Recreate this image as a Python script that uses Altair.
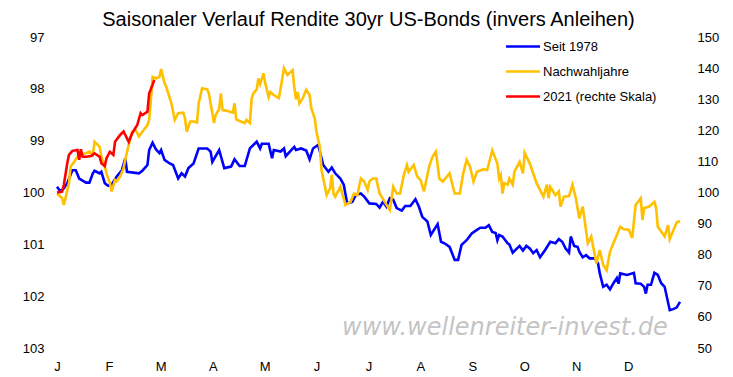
import altair as alt
import pandas as pd

TITLE = "Saisonaler Verlauf Rendite 30yr US-Bonds (invers Anleihen)"
MONTH_LABELS = ["J", "F", "M", "A", "M", "J", "J", "A", "S", "O", "N", "D"]
SERIES = ["Seit 1978", "Nachwahljahre", "2021 (rechte Skala)"]
COLORS = ["#0000FF", "#FFC000", "#FF0000"]
LEFT_TICKS = [97, 98, 99, 100, 101, 102, 103]
RIGHT_TICKS = [50, 60, 70, 80, 90, 100, 110, 120, 130, 140, 150]
MONTH_TICKS = [0, 30.4, 60.8, 91.3, 121.7, 152.1, 182.5, 212.9, 243.3, 273.8, 304.2, 334.6]
WATERMARK = "www.wellenreiter-invest.de"

# Seit 1978 (left axis, inverted)
blue_day = [0, 2, 4, 6, 9, 11, 13, 17, 19, 21, 22, 25, 26, 28, 30, 32, 35, 38, 40, 41, 48, 50, 53, 54, 56,
            58, 60, 61, 63, 66, 68, 71, 73, 75, 77, 80, 83, 88, 90, 91, 95, 98, 102, 104, 107, 110, 113,
            117, 119, 120, 124, 126, 127, 131, 133, 134, 139, 140, 143, 146, 148, 150, 153, 154, 156, 159,
            161, 163, 166, 168, 170, 173, 175, 178, 180, 183, 187, 189, 191, 193, 195, 197, 199, 202, 204,
            207, 210, 212, 214, 217, 219, 223, 225, 227, 230, 233, 235, 237, 240, 243, 246, 248, 251, 253,
            255, 257, 258, 259, 261, 264, 265, 267, 271, 273, 275, 277, 279, 281, 283, 286, 289, 292, 294,
            296, 298, 300, 301, 303, 305, 306, 308, 310, 312, 315, 317, 318, 320, 322, 324, 326, 328, 329,
            330, 334, 338, 339, 342, 344, 345, 346, 348, 350, 352, 354, 356, 359, 361, 363, 365]
blue_val = [99.89, 99.98, 99.92, 99.82, 99.57, 99.57, 99.73, 99.81, 99.81, 99.63, 99.58, 99.63, 99.60,
            99.82, 99.87, 99.85, 99.69, 99.57, 99.34, 99.60, 99.63, 99.58, 99.47, 99.18, 99.04, 99.17,
            99.24, 99.18, 99.37, 99.44, 99.47, 99.73, 99.63, 99.69, 99.53, 99.44, 99.15, 99.15, 99.21,
            99.41, 99.18, 99.53, 99.50, 99.36, 99.49, 99.49, 99.15, 99.02, 99.15, 99.06, 99.06, 99.34,
            99.18, 99.21, 99.15, 99.30, 99.12, 99.18, 99.15, 99.19, 99.36, 99.15, 99.08, 99.21, 99.47,
            99.60, 99.52, 99.63, 99.73, 99.85, 100.21, 100.18, 100.05, 100.02, 100.08, 100.21, 100.22,
            100.29, 100.18, 100.27, 100.11, 100.14, 100.30, 100.35, 100.26, 100.26, 100.13, 100.27,
            100.47, 100.56, 100.82, 100.61, 100.95, 100.98, 101.05, 101.30, 101.30, 101.01, 100.92,
            100.79, 100.72, 100.68, 100.68, 100.63, 100.76, 100.78, 100.92, 100.82, 100.85, 100.98,
            101.00, 101.16, 101.03, 101.12, 101.03, 101.08, 101.17, 101.11, 101.25, 101.11, 100.95,
            100.98, 100.90, 100.95, 101.08, 101.16, 100.85, 101.03, 101.05, 101.14, 101.25, 101.21,
            101.27, 101.27, 101.37, 101.56, 101.82, 101.78, 101.87, 101.75, 101.65, 101.76, 101.56,
            101.59, 101.55, 101.75, 101.76, 101.82, 101.95, 101.78, 101.78, 101.55, 101.59, 101.75,
            101.82, 102.27, 102.25, 102.22, 102.11]

# Nachwahljahre (left axis, inverted)
orange_day = [0, 3, 4, 7, 8, 10, 12, 14, 17, 19, 21, 22, 25, 26, 28, 29, 31, 32, 34, 35, 37, 39, 40, 42,
              44, 46, 48, 50, 53, 54, 55, 56, 58, 60, 61, 63, 64, 67, 69, 71, 74, 75, 76, 78, 80, 82, 83,
              85, 88, 89, 91, 92, 93, 95, 96, 97, 99, 103, 104, 105, 107, 110, 111, 113, 114, 115, 117,
              118, 119, 121, 122, 124, 125, 127, 130, 132, 133, 135, 138, 139, 140, 141, 142, 144, 146,
              148, 149, 151, 152, 154, 155, 157, 158, 160, 161, 162, 163, 166, 169, 172, 174, 176, 178,
              180, 182, 183, 185, 187, 189, 192, 195, 197, 199, 201, 203, 205, 206, 209, 211, 213, 215,
              218, 220, 222, 224, 226, 230, 233, 236, 238, 240, 242, 244, 246, 250, 252, 255, 258, 259,
              260, 261, 262, 264, 265, 267, 268, 271, 273, 274, 277, 281, 285, 287, 288, 289, 292, 294,
              295, 297, 300, 302, 304, 306, 308, 311, 313, 316, 318, 320, 322, 324, 326, 330, 332, 335,
              337, 339, 342, 343, 344, 347, 350, 351, 352, 356, 358, 359, 363, 365]
orange_val = [100.02, 100.11, 100.24, 99.82, 99.50, 99.41, 99.31, 99.28, 99.24, 99.21, 99.28, 99.02,
              99.12, 99.31, 99.50, 99.63, 99.82, 99.98, 99.76, 99.79, 99.69, 99.53, 99.37, 99.08, 98.83,
              98.79, 98.92, 98.83, 98.70, 98.60, 98.22, 97.77, 97.80, 97.77, 97.62, 97.89, 97.96, 98.28,
              98.60, 98.47, 98.46, 98.57, 98.83, 98.63, 98.63, 98.65, 98.28, 97.99, 98.01, 98.09, 98.47,
              98.66, 98.50, 98.39, 98.09, 98.41, 98.42, 98.46, 98.28, 98.59, 98.62, 98.66, 98.60, 98.66,
              98.20, 98.09, 98.01, 97.80, 97.91, 97.70, 97.89, 98.16, 98.06, 98.12, 98.18, 97.80, 97.60,
              97.73, 97.64, 97.96, 98.20, 98.06, 98.28, 98.18, 98.02, 98.12, 98.38, 98.57, 98.83, 99.12,
              99.57, 99.89, 100.05, 99.92, 99.66, 100.02, 100.08, 99.89, 100.24, 100.18, 100.02, 100.05,
              99.73, 99.79, 99.95, 99.79, 99.73, 99.73, 100.02, 100.18, 100.34, 99.89, 100.02, 100.02,
              99.69, 99.47, 99.60, 99.47, 99.69, 99.76, 99.98, 99.50, 99.31, 99.21, 99.73, 99.79, 99.63,
              100.02, 100.02, 99.63, 99.37, 99.50, 99.79, 99.60, 99.55, 99.57, 99.19, 99.44, 99.73,
              99.66, 100.02, 99.82, 99.85, 99.73, 99.85, 99.60, 99.41, 99.63, 99.23, 99.44, 99.82,
              100.08, 99.85, 100.11, 99.89, 100.05, 99.98, 100.27, 100.08, 100.07, 99.85, 100.11,
              100.50, 100.27, 100.98, 100.85, 101.37, 101.11, 101.40, 101.50, 101.14, 100.98, 100.66,
              100.71, 100.72, 100.88, 100.24, 100.11, 100.53, 100.30, 100.27, 100.18, 100.30, 100.66,
              100.85, 100.63, 100.90, 100.58, 100.55]

# 2021 (right axis)
red_day = [0, 3, 4, 6, 7, 9, 12, 13, 14, 15, 17, 20, 22, 25, 26, 28, 29, 31, 33, 34, 37, 39, 42, 44, 47,
           49, 50, 53, 54, 56, 57]
red_val = [100.0, 100.3, 102.4, 109.4, 112.1, 113.4, 113.7, 110.5, 113.9, 111.5, 111.5, 111.7, 112.6,
           111.5, 109.4, 108.5, 111.0, 113.1, 112.1, 116.3, 118.5, 119.6, 116.3, 119.0, 121.7, 125.5,
           124.9, 126.0, 131.9, 134.6, 136.2]

df_blue = pd.DataFrame({"day": blue_day, "value": blue_val})
df_orange = pd.DataFrame({"day": orange_day, "value": orange_val})
df_red = pd.DataFrame({"day": red_day, "value": red_val})

FONT = "Liberation Sans"
label_expr = "['" + "','".join(MONTH_LABELS) + "'][round(datum.value * 12 / 365)]"

x_enc = alt.X(
    "day:Q",
    scale=alt.Scale(domain=[0, 365], nice=False, zero=False),
    axis=alt.Axis(values=MONTH_TICKS, labelExpr=label_expr, title=None, labelPadding=12,
                  labelFlush=False, labelOverlap=False),
)
left_y = alt.Y(
    "value:Q",
    scale=alt.Scale(domain=[97, 103], reverse=True, nice=False, zero=False),
    axis=alt.Axis(orient="left", values=LEFT_TICKS, title=None, labelPadding=13, labelFlush=False),
)
right_y = alt.Y(
    "value:Q",
    scale=alt.Scale(domain=[50, 150], nice=False, zero=False),
    axis=alt.Axis(orient="right", values=RIGHT_TICKS, title=None, labelPadding=17, labelFlush=False),
)

blue = alt.Chart(df_blue).mark_line(color=COLORS[0], strokeWidth=2.6).encode(x=x_enc, y=left_y)
orange = alt.Chart(df_orange).mark_line(color=COLORS[1], strokeWidth=2.6).encode(x=x_enc, y=left_y)
red = alt.Chart(df_red).mark_line(color=COLORS[2], strokeWidth=2.6).encode(x=x_enc, y=right_y)

left_layer = alt.layer(blue, orange)

legend_layers = []
LEG_X = 449
LEG_Y = [9.5, 34.5, 59.5]
for i, name in enumerate(SERIES):
    ldf = pd.DataFrame({"label": [name]})
    legend_layers.append(
        alt.Chart(ldf).mark_rule(color=COLORS[i], strokeWidth=2.6).encode(
            x=alt.value(LEG_X), x2=alt.value(LEG_X + 34), y=alt.value(LEG_Y[i])
        )
    )
    legend_layers.append(
        alt.Chart(ldf).mark_text(align="left", baseline="middle", fontSize=13, font=FONT,
                                 color="#000000").encode(
            x=alt.value(LEG_X + 37), y=alt.value(LEG_Y[i]), text=alt.Text("label:N")
        )
    )

wm = alt.Chart(pd.DataFrame({"label": [WATERMARK]})).mark_text(
    align="center", baseline="middle", fontSize=24, font="DejaVu Sans", fontStyle="italic",
    color="#C4C4C4"
).encode(x=alt.value(448), y=alt.value(291), text=alt.Text("label:N"))

title_layer = alt.Chart(pd.DataFrame({"label": [TITLE]})).mark_text(
    align="center", baseline="middle", fontSize=20, font=FONT, color="#000000"
).encode(x=alt.value(311.5), y=alt.value(-17), text=alt.Text("label:N"))

chart = alt.layer(left_layer, red, wm, title_layer, *legend_layers).resolve_scale(
    y="independent"
).properties(
    width=623,
    height=311,
    autosize=alt.AutoSizeParams(type="none"),
    padding={"left": 49, "top": 29, "right": 45, "bottom": 32},
).configure_view(stroke=None).configure_axis(
    domain=False, ticks=False, tickSize=0, grid=False, labelFont=FONT, labelFontSize=13,
    labelColor="#000000"
)

chart.save("out.html", embed_options={"renderer": "svg", "actions": False})
